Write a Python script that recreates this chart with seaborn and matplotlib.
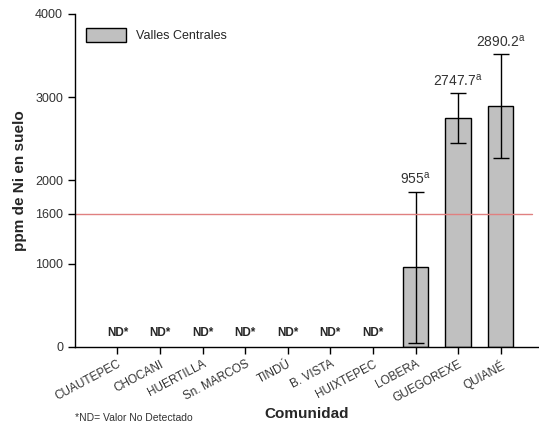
import matplotlib
matplotlib.use("Agg")
import matplotlib.pyplot as plt
import seaborn as sns
import numpy as np
import pandas as pd

categories = ["CUAUTEPEC", "CHOCANI", "HUERTILLA", "Sn. MARCOS", "TINDÚ",
              "B. VISTA", "HUIXTEPEC", "LOBERA", "GUEGOREXE", "QUIANÉ"]
values = [0, 0, 0, 0, 0, 0, 0, 955, 2747.7, 2890.2]
errors = [0, 0, 0, 0, 0, 0, 0, 910, 300, 625]
detected = [False, False, False, False, False, False, False, True, True, True]
value_labels = ["", "", "", "", "", "", "", "955", "2747.7", "2890.2"]
y_ticks = [0, 1000, 1600, 2000, 3000, 4000]
limit_value = 1600

sns.set_style("white")
plt.rcParams['font.family'] = ['Liberation Sans', 'DejaVu Sans']

df = pd.DataFrame({"Comunidad": categories, "ppm": values})

fig = plt.figure(figsize=(5.39, 4.34), dpi=100)
ax = fig.add_axes([0.139, 0.2005, 0.861, 0.7675])

sns.barplot(data=df, x="Comunidad", y="ppm", color="#c0c0c0", edgecolor="black",
            linewidth=1.0, width=0.6, saturation=1, ax=ax, label="Valles Centrales")

leg = ax.legend(loc="upper left", frameon=False, fontsize=9, bbox_to_anchor=(0.0, 0.99),
                handlelength=3.2, handleheight=1.3)
for h in leg.legend_handles:
    h.set_edgecolor("black")
    h.set_linewidth(1.0)

for p in ax.patches:
    if p.get_height() == 0:
        p.set_linewidth(0)

pos = np.arange(len(categories))
for i, (v, e, d) in enumerate(zip(values, errors, detected)):
    if d:
        ax.errorbar(pos[i], v, yerr=e, fmt="none", ecolor="black", elinewidth=1.0,
                    capsize=6, capthick=1.0)
        ax.text(pos[i], v + e + 60, value_labels[i] + r"$^{\mathregular{a}}$",
                ha="center", va="bottom", fontsize=10, color="#333333")
    else:
        ax.text(pos[i], 90, "ND*", ha="center", va="bottom", fontsize=8.5,
                fontweight="bold")

ax.axhline(limit_value, color="#e08080", linewidth=1.0, xmin=0.0, xmax=0.985)

ax.set_xlim(-1, 9.9)
ax.set_ylim(0, 4000)
ax.set_yticks(y_ticks)
ax.set_yticklabels([str(t) for t in y_ticks], fontsize=9, color="#333333")
ax.set_xticks(pos)
ax.set_xticklabels(categories, rotation=28, ha="right", rotation_mode="anchor",
                   fontsize=8.5, color="#333333")
ax.tick_params(axis="both", direction="out", length=5, width=1, color="black",
               bottom=True, left=True)
ax.tick_params(axis="x", pad=3)

for s in ["top", "right"]:
    ax.spines[s].set_visible(False)
for s in ["left", "bottom"]:
    ax.spines[s].set_color("black")
    ax.spines[s].set_linewidth(1.0)

ax.set_ylabel("ppm de Ni en suelo", fontsize=11, fontweight="bold", labelpad=6)
ax.set_xlabel("Comunidad", fontsize=11, fontweight="bold", labelpad=2)

fig.text(0.139, 0.03, "*ND= Valor No Detectado", fontsize=7.5, color="#333333")

fig.savefig("out.png", dpi=100)
